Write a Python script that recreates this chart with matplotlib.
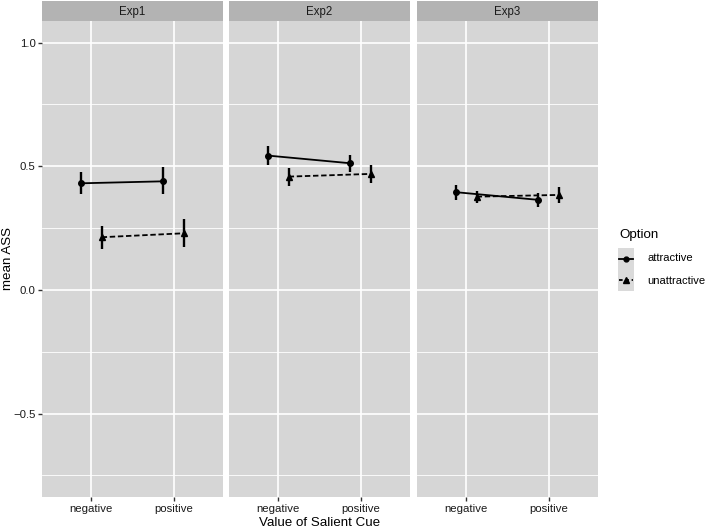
import matplotlib
matplotlib.use("Agg")
import matplotlib.pyplot as plt

plt.rcParams['font.family'] = ['Liberation Sans', 'DejaVu Sans']

experiments = ['Exp1', 'Exp2', 'Exp3']
cues = ['negative', 'positive']
options = ['attractive', 'unattractive']

attr_mean = [[0.431, 0.439], [0.543, 0.512], [0.395, 0.364]]
attr_lo = [[0.389, 0.387], [0.503, 0.478], [0.364, 0.334]]
attr_hi = [[0.477, 0.496], [0.582, 0.546], [0.424, 0.393]]
unat_mean = [[0.213, 0.229], [0.458, 0.469], [0.377, 0.384]]
unat_lo = [[0.166, 0.174], [0.420, 0.431], [0.350, 0.353]]
unat_hi = [[0.259, 0.286], [0.494, 0.504], [0.400, 0.415]]

yticks = [-0.5, 0.0, 0.5, 1.0]
ytick_labels = ['\u22120.5', '0.0', '0.5', '1.0']

W, H = 706, 528
fig = plt.figure(figsize=(W / 100, H / 100), dpi=100)

def px(x0, y0, x1, y1):
    return [x0 / W, 1 - y1 / H, (x1 - x0) / W, (y1 - y0) / H]

panel_x = [(42, 223), (229, 410), (417, 598)]
top, bottom = 21, 497
strip_top = 1
panel_bg = '#D6D6D6'
strip_bg = '#B3B3B3'
dodge = 0.125
ylim = (-0.837, 1.087)

for i, (x0, x1) in enumerate(panel_x):
    ax = fig.add_axes(px(x0, top, x1, bottom))
    ax.set_facecolor(panel_bg)
    ax.set_xlim(0.4, 2.6)
    ax.set_ylim(*ylim)
    for s in ax.spines.values():
        s.set_visible(False)
    ax.set_yticks(yticks)
    ax.set_yticks([-0.75, -0.25, 0.25, 0.75], minor=True)
    ax.set_xticks([1, 2])
    ax.grid(which='major', color='white', linewidth=1.2)
    ax.grid(which='minor', axis='y', color='white', linewidth=0.6)
    ax.set_axisbelow(True)
    ax.tick_params(which='minor', length=0)
    ax.tick_params(which='major', length=3.2, width=1.0, color='#333333',
                   labelsize=8.2, labelcolor='#1a1a1a', pad=1.5)
    ax.set_xticklabels(cues)
    if i == 0:
        ax.set_yticklabels(ytick_labels)
    else:
        ax.tick_params(axis='y', left=False, labelleft=False)

    xs = [1, 2]
    xa = [x - dodge for x in xs]
    xu = [x + dodge for x in xs]
    ax.vlines(xa, attr_lo[i], attr_hi[i], color='black', linewidth=1.7, zorder=3)
    ax.plot(xa, attr_mean[i], color='black', linewidth=1.3, linestyle='-',
            marker='o', markersize=4, zorder=4)
    ax.vlines(xu, unat_lo[i], unat_hi[i], color='black', linewidth=1.7, zorder=3)
    ax.plot(xu, unat_mean[i], color='black', linewidth=1.3, linestyle=(0, (3, 1.5)),
            marker='^', markersize=4.5, zorder=4)

    sax = fig.add_axes(px(x0, strip_top, x1, top))
    sax.set_facecolor(strip_bg)
    sax.set_xticks([]); sax.set_yticks([])
    for s in sax.spines.values():
        s.set_visible(False)
    sax.text(0.5, 0.45, experiments[i], ha='center', va='center', fontsize=8.3,
             color='#1a1a1a', transform=sax.transAxes)

fig.text(320 / W, 1 - 523.5 / H, 'Value of Salient Cue', ha='center', va='center', fontsize=9.6)
fig.text(8 / W, 1 - 259 / H, 'mean ASS', ha='center', va='center', rotation=90, fontsize=9.6)

fig.text(619 / W, 1 - 235 / H, 'Option', ha='left', va='center', fontsize=9.6)
kax = fig.add_axes(px(618, 248, 634, 291))
kax.set_facecolor('#DADADA')
kax.set_xlim(0, 1); kax.set_ylim(0, 2)
kax.set_xticks([]); kax.set_yticks([])
for s in kax.spines.values():
    s.set_visible(False)
kax.plot([0.05, 0.95], [1.5, 1.5], color='black', linewidth=1.3, linestyle='-')
kax.plot([0.5], [1.5], color='black', marker='o', markersize=3.5)
kax.plot([0.05, 0.95], [0.5, 0.5], color='black', linewidth=1.3, linestyle=(0, (2, 1.5)))
kax.plot([0.5], [0.5], color='black', marker='^', markersize=4)
fig.text(647 / W, 1 - 258.5 / H, options[0], ha='left', va='center', fontsize=8.0)
fig.text(647 / W, 1 - 280.5 / H, options[1], ha='left', va='center', fontsize=8.0)

fig.savefig('out.png', dpi=100)
